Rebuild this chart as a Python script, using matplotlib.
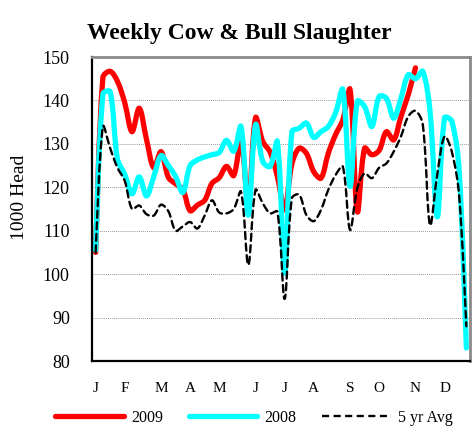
import numpy as np
import matplotlib
matplotlib.use("Agg")
import matplotlib.pyplot as plt
from matplotlib.path import Path
from matplotlib.patches import PathPatch
from matplotlib.lines import Line2D

# ---- data ----
month_labels = ["J", "F", "M", "A", "M", "J", "J", "A", "S", "O", "N", "D"]
month_weeks = [0, 4, 9, 13, 17, 22, 26, 30, 35, 39, 44, 48]

y2009 = [105, 145.3, 146.7, 144.4, 139.5, 132.8, 138.2, 131, 124.5, 128.2,
         122.3, 120.8, 119.5, 114.6, 115.9, 117, 120.9, 122.2, 124.8, 122.7,
         131, 116, 136, 130.5, 128.1, 122.5, 114.8, 125.4, 129, 127.8,
         123.6, 122.1, 127.8, 132.1, 135.5, 142.5, 114.4, 129, 127.5, 128.5,
         132.8, 130.9, 136.3, 141.3, 147.5]

y2008 = [105.5, 141.5, 142, 126.5, 123, 118.5, 122.4, 118, 122.5, 127.3,
         125, 122.5, 118.8, 125, 126.3, 127, 127.5, 128, 130.8, 128.3,
         134, 113.6, 134.4, 125.9, 124.8, 130.5, 100.2, 132.8, 133.6, 134.8,
         131.5, 132.8, 134, 137.1, 142.5, 120.2, 139.8, 138.6, 134, 140.9,
         140.5, 135.9, 140.5, 145.9, 145, 146.7, 137.5, 113.2, 136, 135.2,
         124, 83]

avg5 = [105, 134, 129, 124.5, 121.5, 115, 115.8, 113.8, 113.5, 116,
        114.5, 110, 111, 112, 110.5, 113.5, 117, 114.2, 114, 115,
        119, 102.1, 119.4, 116.3, 114, 114.4, 94.3, 117.5, 118.3, 113.6,
        112.2, 114.8, 119.4, 122.8, 124.8, 110.2, 119.8, 123.2, 122.1, 124.5,
        125.5, 128.2, 131.7, 136.3, 137.6, 134.5, 111.3, 123, 131.7, 128.2,
        118.2, 88]

series_names = ["2009", "2008", "5 yr Avg"]

# approximate screen scale (px per data unit) used only to weight smoothing
SX, SY = 7.27, 4.343


def smooth_path(ys):
    """Smoothed line (chord-length weighted Bezier) in data coordinates."""
    xs = np.arange(len(ys), dtype=float)
    ys = np.asarray(ys, dtype=float)
    n = len(xs)
    P = np.column_stack([xs, ys])

    def dist(a, b):
        return np.hypot((P[b, 0] - P[a, 0]) * SX, (P[b, 1] - P[a, 1]) * SY)

    verts = [tuple(P[0])]
    codes = [Path.MOVETO]
    for i in range(n - 1):
        i0 = max(i - 1, 0)
        i3 = min(i + 2, n - 1)
        d01 = dist(i0, i) if i0 != i else 0.0
        d12 = dist(i, i + 1)
        d23 = dist(i + 1, i3) if i3 != i + 1 else 0.0
        t1 = P[i + 1] - P[i0]
        t2 = P[i3] - P[i]
        f1 = d12 / (d01 + d12) / 3.0 if (d01 + d12) > 0 else 0
        f2 = d12 / (d12 + d23) / 3.0 if (d12 + d23) > 0 else 0
        if i0 == i:
            f1 = 1 / 6.0
        if i3 == i + 1:
            f2 = 1 / 6.0
        c1 = P[i] + t1 * f1
        c2 = P[i + 1] - t2 * f2
        verts += [tuple(c1), tuple(c2), tuple(P[i + 1])]
        codes += [Path.CURVE4] * 3
    return Path(verts, codes)


plt.rcParams['font.family'] = ['Liberation Serif', 'DejaVu Serif']

fig = plt.figure(figsize=(4.72, 4.32), dpi=100)
ax = fig.add_axes([92 / 472, 1 - 361 / 432, (470 - 92) / 472, (361 - 57) / 432])

styles = [
    dict(color="#FF0000", lw=3.8, ls="-"),
    dict(color="#00FFFF", lw=3.8, ls="-"),
    dict(color="#000000", lw=1.7, ls=(0, (3.0, 1.9))),
]

for ys, st in zip([y2009, y2008, avg5], styles):
    patch = PathPatch(smooth_path(ys), fill=False, edgecolor=st["color"],
                      linewidth=st["lw"], linestyle=st["ls"],
                      capstyle="round", joinstyle="round")
    ax.add_patch(patch)

ax.set_xlim(-0.5, 51.5)
ax.set_ylim(80, 150)
ax.set_yticks(np.arange(80, 151, 10))
ax.set_xticks(month_weeks)
ax.set_xticklabels(month_labels, fontsize=11)
ax.tick_params(axis="y", length=0, pad=16, labelsize=13)
ax.tick_params(axis="x", length=0, pad=15)

ax.yaxis.grid(True, color="#9a9a9a", linestyle=(0, (1, 1)), linewidth=0.7)
ax.set_axisbelow(True)

for side in ["left", "bottom"]:
    ax.spines[side].set_color("black")
    ax.spines[side].set_linewidth(1.6)
for side in ["top", "right"]:
    ax.spines[side].set_color("#8a8a8a")
    ax.spines[side].set_linewidth(2.0)

fig.text(239 / 472, 1 - 33 / 432, "Weekly Cow & Bull Slaughter",
         ha="center", va="center", fontsize=17, fontweight="bold")
fig.text(19 / 472, 1 - 197 / 432, "1000 Head", rotation=90,
         ha="center", va="center", fontsize=14)

handles = [Line2D([], [], color=st["color"], lw=st["lw"], ls=st["ls"],
                  solid_capstyle="round") for st in styles]
fig.legend(handles, series_names, loc="center", ncol=3,
           bbox_to_anchor=(254 / 472, 14 / 432), frameon=False,
           fontsize=11.5, handlelength=4.3, handletextpad=0.45,
           columnspacing=1.6, borderaxespad=0, borderpad=0)

fig.savefig("out.png", dpi=100)
